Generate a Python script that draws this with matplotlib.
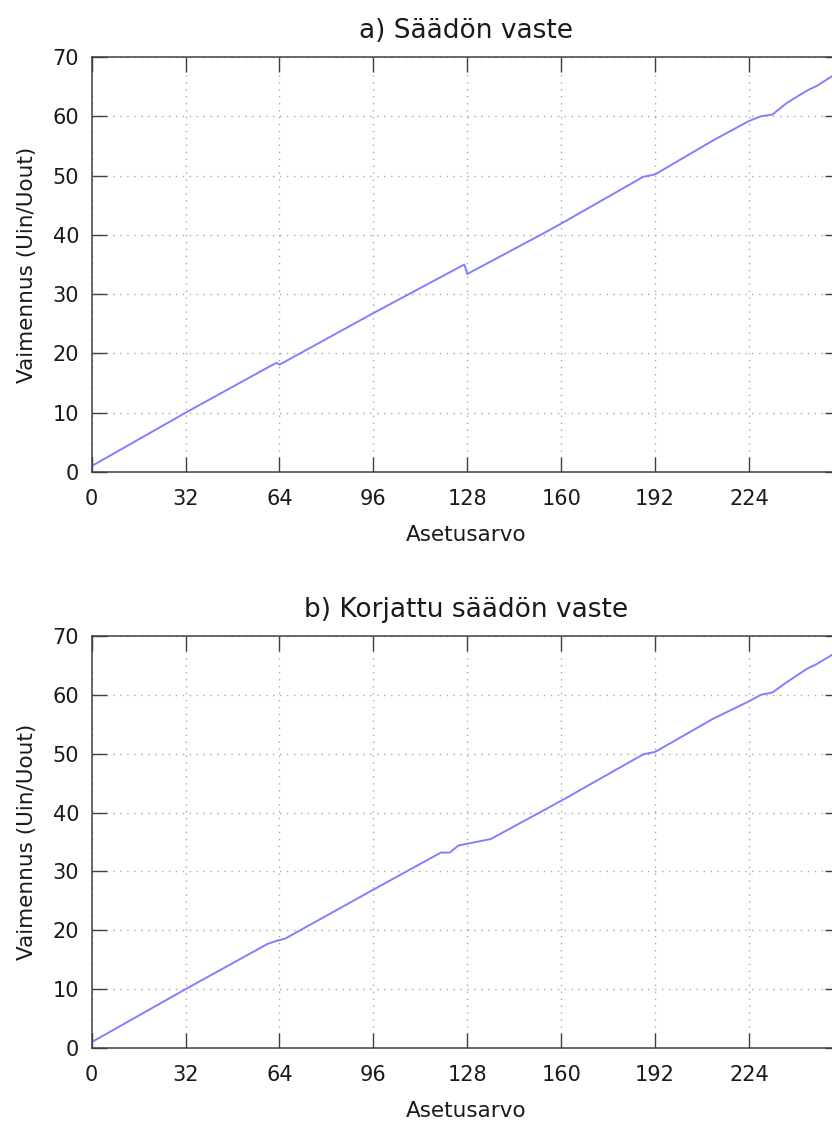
import matplotlib
matplotlib.use("Agg")
import matplotlib.pyplot as plt

# Vaimennus asetusarvon funktiona, murtopisteet
asetus_a = [0, 5, 32, 61, 63, 64, 96, 127, 128, 153, 160, 188, 192, 212, 224, 228, 232, 237, 244, 247, 255]
vaimennus_a = [1.0, 2.4, 10.0, 17.9, 18.4, 18.1, 26.8, 35.0, 33.4, 40.0, 41.9, 49.8, 50.2, 56.0, 59.2, 60.0, 60.3, 62.3, 64.4, 65.1, 67.6]

asetus_b = [0, 5, 32, 60, 63, 66, 96, 119, 122, 125, 136, 160, 188, 192, 212, 224, 228, 232, 237, 244, 247, 255]
vaimennus_b = [1.0, 2.4, 10.0, 17.7, 18.2, 18.6, 26.9, 33.2, 33.2, 34.4, 35.5, 42.0, 49.9, 50.3, 56.0, 58.9, 60.0, 60.4, 62.2, 64.5, 65.2, 67.6]

x_ticks = [0, 32, 64, 96, 128, 160, 192, 224]
y_ticks = [0, 10, 20, 30, 40, 50, 60, 70]

line_color = "#8080ff"
frame_color = "#404040"
text_color = "#1a1a1a"

fig = plt.figure(figsize=(8.32, 11.31), dpi=100)
ax_a = fig.add_axes([0.1102, 0.5827, 0.8994, 0.3669])
ax_b = fig.add_axes([0.1102, 0.0734, 0.8994, 0.3643])


def draw_panel(ax, xs, ys, title):
    ax.plot(xs, ys, color=line_color, linewidth=1.4)
    ax.set_xlim(0, 255)
    ax.set_ylim(0, 70)
    ax.set_xticks(x_ticks)
    ax.set_yticks(y_ticks)
    ax.grid(True, color="#a8a8a8", linewidth=1.0, linestyle=(0, (1, 4)))
    ax.tick_params(direction="in", length=11, width=1.0, color=frame_color,
                   top=True, right=True, labelsize=15, labelcolor=text_color)
    ax.tick_params(axis="x", pad=12)
    ax.tick_params(axis="y", pad=9)
    for sp in ax.spines.values():
        sp.set_color(frame_color)
        sp.set_linewidth(1.1)
    ax.set_xlabel("Asetusarvo", fontsize=15.5, color=text_color, labelpad=12)
    ax.set_ylabel("Vaimennus (Uin/Uout)", fontsize=15.5, color=text_color, labelpad=11)
    ax.set_title(title, fontsize=19, color=text_color, pad=14)


draw_panel(ax_a, asetus_a, vaimennus_a, "a) Säädön vaste")
draw_panel(ax_b, asetus_b, vaimennus_b, "b) Korjattu säädön vaste")

fig.savefig("out.png", dpi=100)
